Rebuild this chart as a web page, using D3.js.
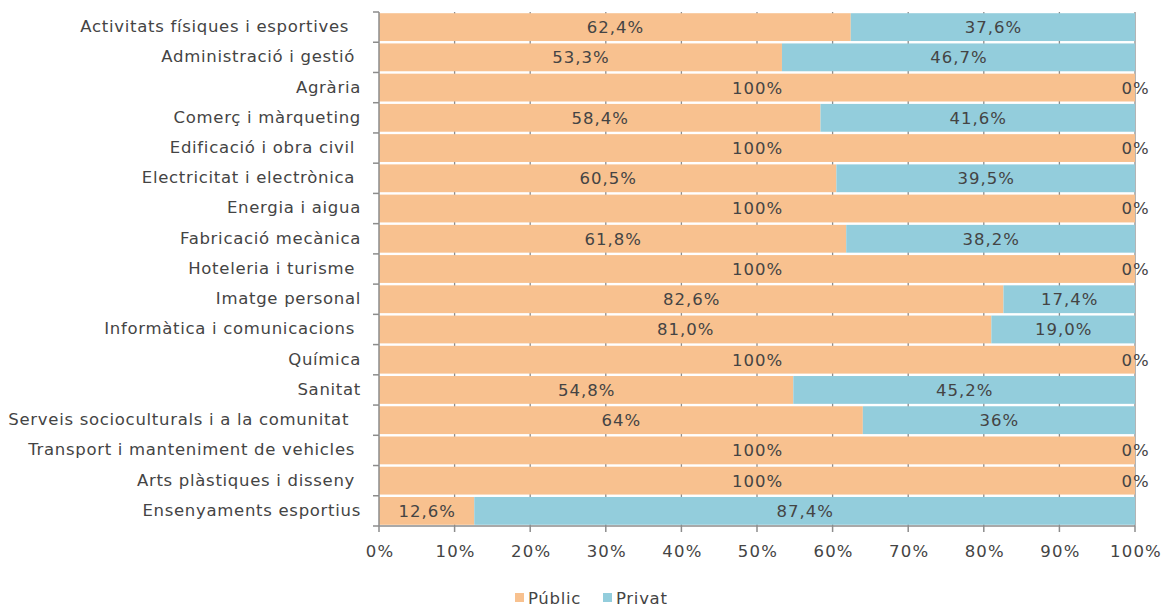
<!DOCTYPE html>
<html><head><meta charset="utf-8">
<script src="https://cdn.jsdelivr.net/npm/d3@7"></script>
<style>body{margin:0;background:#fff}svg{display:block}text{white-space:pre}</style>
</head><body><svg id="c" width="1176" height="608"></svg>
<script>
const categories = ["Activitats físiques i esportives  ","Administració i gestió ","Agrària","Comerç i màrqueting","Edificació i obra civil ","Electricitat i electrònica ","Energia i aigua","Fabricació mecànica","Hoteleria i turisme ","Imatge personal","Informàtica i comunicacions ","Química","Sanitat","Serveis socioculturals i a la comunitat  ","Transport i manteniment de vehicles ","Arts plàstiques i disseny ","Ensenyaments esportius"];
const publicValues = [62.4,53.3,100,58.4,100,60.5,100,61.8,100,82.6,81.0,100,54.8,64,100,100,12.6];
const privateValues = [37.6,46.7,0,41.6,0,39.5,0,38.2,0,17.4,19.0,0,45.2,36,0,0,87.4];
const labelDecimals = [1,1,0,1,0,1,0,1,0,1,1,0,1,0,0,0,1];
const xTicks = [0,10,20,30,40,50,60,70,80,90,100];
const seriesNames = ["Públic","Privat"];
const colors = ["#F8C18F","#93CDDC"];

const svg = d3.select("#c");
const font = "DejaVu Sans";
const fs = 16.5;
const tc = "#444";
const x = d3.scaleLinear().domain([0,100]).range([379,1135]);
const y = d3.scaleBand().domain(categories).range([12,526]).paddingInner(0.08).paddingOuter(0.04);
const fmt = (v,d)=> v.toFixed(d).replace(".",",")+"%";

// gridlines
svg.append("g").selectAll("line").data(xTicks.slice(1)).join("line")
  .attr("x1",d=>x(d)).attr("x2",d=>x(d)).attr("y1",12).attr("y2",526)
  .attr("stroke","#8c8c8c").attr("stroke-width",1.3);

const rows = categories.map((c,i)=>({c,i,p:publicValues[i],q:privateValues[i]}));
const g = svg.append("g");
g.selectAll("rect.p").data(rows).join("rect").attr("x",x(0)).attr("y",d=>y(d.c))
  .attr("width",d=>x(d.p)-x(0)).attr("height",y.bandwidth()).attr("fill",colors[0]);
g.selectAll("rect.q").data(rows).join("rect").attr("x",d=>x(d.p)).attr("y",d=>y(d.c))
  .attr("width",d=>x(d.p+d.q)-x(d.p)).attr("height",y.bandwidth()).attr("fill",colors[1]);

const lab = svg.append("g").attr("font-family",font).attr("font-size",fs).attr("letter-spacing",1).attr("fill",tc).attr("text-anchor","middle");
lab.selectAll("text.p").data(rows).join("text").attr("x",d=>x(d.p/2)+0.5).attr("y",d=>y(d.c)+y.bandwidth()/2).attr("dy","0.36em")
  .text(d=>fmt(d.p,labelDecimals[d.i]));
lab.selectAll("text.q").data(rows).join("text").attr("x",d=>x(d.p+d.q/2)+0.5).attr("y",d=>y(d.c)+y.bandwidth()/2).attr("dy","0.36em")
  .text(d=>fmt(d.q,labelDecimals[d.i]));

// axes
const bounds = d3.range(categories.length+1).map(k=>12+k*(514/categories.length));
const ax = svg.append("g").attr("stroke","#8c8c8c").attr("stroke-width",1.5);
ax.append("line").attr("x1",x(0)).attr("x2",x(0)).attr("y1",12).attr("y2",526);
ax.selectAll("line.t").data(bounds).join("line").attr("x1",x(0)-6).attr("x2",x(0)).attr("y1",d=>d).attr("y2",d=>d);
ax.append("line").attr("x1",x(0)).attr("x2",x(100)).attr("y1",526).attr("y2",526);
ax.selectAll("line.xt").data(xTicks).join("line").attr("x1",d=>x(d)).attr("x2",d=>x(d)).attr("y1",526).attr("y2",532);

svg.append("g").attr("font-family",font).attr("font-size",fs).attr("letter-spacing",0.7).attr("fill",tc).attr("text-anchor","end")
  .selectAll("text").data(categories).join("text").attr("x",361).attr("y",d=>y(d)+y.bandwidth()/2-1).attr("dy","0.36em").text(d=>d);
svg.append("g").attr("font-family",font).attr("font-size",fs).attr("letter-spacing",1.2).attr("fill",tc).attr("text-anchor","middle")
  .selectAll("text").data(xTicks).join("text").attr("x",d=>x(d)+1).attr("y",557).text(d=>d+"%");

// legend
const lg = svg.append("g").attr("font-family",font).attr("font-size",fs).attr("letter-spacing",0.7).attr("fill",tc);
const lx = [515,603];
seriesNames.forEach((s,i)=>{
  lg.append("rect").attr("x",lx[i]).attr("y",593).attr("width",9).attr("height",9).attr("fill",colors[i]);
  lg.append("text").attr("x",lx[i]+13).attr("y",604).text(s);
});
</script></body></html>
